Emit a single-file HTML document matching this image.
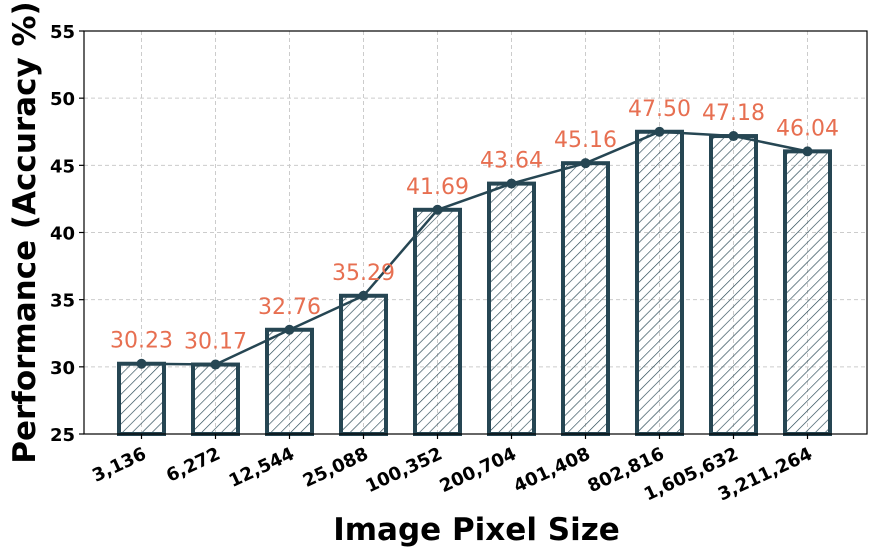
<!DOCTYPE html>
<html><head><meta charset="utf-8"><style>
body{margin:0;background:#fff;width:874px;height:554px;overflow:hidden}
svg{font-family:"DejaVu Sans","Liberation Sans",sans-serif}
</style></head><body>
<svg id="chart" width="874" height="554">
<defs><pattern id="hatch" patternUnits="userSpaceOnUse" width="7" height="7" patternTransform="rotate(45)"><line x1="0" y1="0" x2="0" y2="7" stroke="#264653" stroke-width="1.3"/></pattern></defs>
<g id="grid"></g><g id="bars"></g><g id="line"></g><g id="labels"></g><g id="axes"></g>
</svg>
<script>
const categories=["3,136","6,272","12,544","25,088","100,352","200,704","401,408","802,816","1,605,632","3,211,264"];
const values=[30.23,30.17,32.76,35.29,41.69,43.64,45.16,47.50,47.18,46.04];
const yTicks=[25,30,35,40,45,50,55];
const L=84,R=867,T=31,B=434,yMin=25,yMax=55;
const x=i=>141.5+i*74;
const y=v=>B-(v-yMin)/(yMax-yMin)*(B-T);
const NS="http://www.w3.org/2000/svg";
function mk(tag,attrs,parent,text){const e=document.createElementNS(NS,tag);for(const k in attrs)e.setAttribute(k,attrs[k]);if(text!==undefined)e.textContent=text;document.getElementById(parent).appendChild(e);return e;}
yTicks.forEach(t=>{
  const g=mk("line",{x1:L,x2:R,y1:y(t),y2:y(t),stroke:"#ccc","stroke-dasharray":"4,3","stroke-width":1},"grid");
  
  
  mk("line",{x1:L-5,x2:L,y1:y(t),y2:y(t),stroke:"#000","stroke-width":1.2},"axes");
  const tl=mk("text",{x:L-9,y:y(t)+7,"text-anchor":"end","font-size":18,"font-weight":"bold"},"axes",t);
  
  
});
categories.forEach((c,i)=>{
  const g=mk("line",{x1:x(i),x2:x(i),y1:T,y2:B,stroke:"#ccc","stroke-dasharray":"4,3","stroke-width":1},"grid");
  
  
  const b=mk("rect",{x:x(i)-22.5,y:y(values[i]),width:45,height:B-y(values[i]),fill:"url(#hatch)",stroke:"#264653","stroke-width":4},"bars");
  
  
  const d=mk("circle",{cx:x(i),cy:y(values[i]),r:5,fill:"#264653"},"line");
  
  
  const vl=mk("text",{x:x(i),y:y(values[i])-16,"text-anchor":"middle","font-size":22,fill:"#e76f51"},"labels",values[i].toFixed(2));
  
  
  mk("line",{x1:x(i),x2:x(i),y1:B,y2:B+5,stroke:"#000","stroke-width":1.2},"axes");
  const xl=mk("text",{x:0,y:0,"text-anchor":"end","font-size":18,"font-weight":"bold",transform:`translate(${x(i)+6},${B+24}) rotate(-25)`},"axes",c);
  
  
});
const pl=mk("polyline",{points:values.map((v,i)=>x(i)+","+y(v)).join(" "),fill:"none",stroke:"#264653","stroke-width":2.5},"line");


document.getElementById("line").insertBefore(pl,document.getElementById("line").firstChild);
const fr=mk("rect",{x:L,y:T,width:R-L,height:B-T,fill:"none",stroke:"#000","stroke-width":1.2},"axes");


const xt=mk("text",{x:(L+R)/2+1,y:540,"text-anchor":"middle","font-size":31,"font-weight":"bold"},"axes","Image Pixel Size");


const yt=mk("text",{x:0,y:0,"text-anchor":"middle","font-size":31,"font-weight":"bold",transform:`translate(35,${(T+B)/2}) rotate(-90)`},"axes","Performance (Accuracy %)");


</script>
</body></html>
